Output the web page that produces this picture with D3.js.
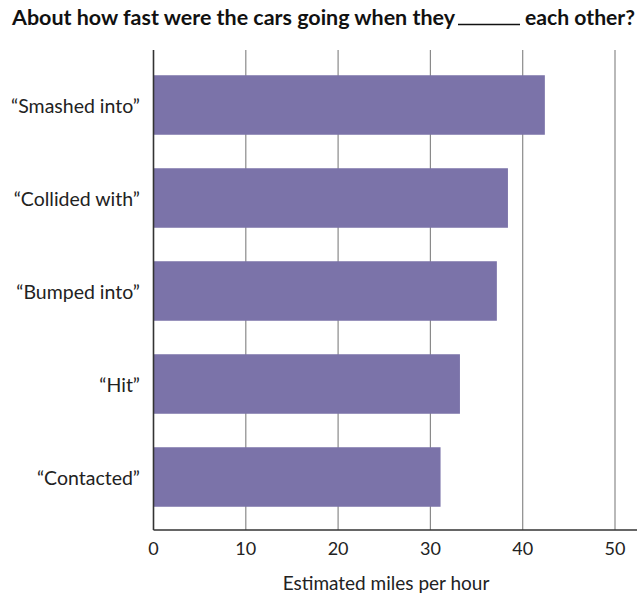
<!DOCTYPE html>
<html>
<head>
<meta charset="utf-8">
<script src="https://cdn.jsdelivr.net/npm/d3@7"></script>
<style>
  html, body { margin: 0; padding: 0; background: #ffffff; }
  svg { display: block; font-family: Lato, "Open Sans", sans-serif; }
</style>
</head>
<body>
<svg id="chart" width="638" height="593"></svg>
<script>
// Verb used in the question, top to bottom
const verbs = ["\u201CSmashed into\u201D", "\u201CCollided with\u201D", "\u201CBumped into\u201D", "\u201CHit\u201D", "\u201CContacted\u201D"];
// Mean estimated speed (mph) for each verb
const speeds = [42.4, 38.4, 37.2, 33.2, 31.1];
// Axis ticks
const xTicks = [0, 10, 20, 30, 40, 50];

const svg = d3.select("#chart");
const plotLeft = 153.5, plotRight = 615, plotTop = 50, plotBottom = 530;

const x = d3.scaleLinear().domain([0, 50]).range([plotLeft, plotRight]);
const y = d3.scaleBand().domain(verbs).range([58.5, 523.5]).paddingInner(0.36).paddingOuter(0.18);

// Title: question with a blank for the verb
const title = svg.append("g").attr("fill", "#111").attr("font-weight", 700).attr("font-size", 20.5);
title.append("text")
  .attr("x", 12).attr("y", 25)
  .attr("textLength", 443).attr("lengthAdjust", "spacingAndGlyphs")
  .text("About how fast were the cars going when they");
title.append("line")
  .attr("x1", 458).attr("x2", 520).attr("y1", 24.5).attr("y2", 24.5)
  .attr("stroke", "#111").attr("stroke-width", 1.6);
title.append("text")
  .attr("x", 525).attr("y", 25)
  .attr("textLength", 110).attr("lengthAdjust", "spacingAndGlyphs")
  .text("each other?");

// Vertical gridlines
svg.append("g").selectAll("line")
  .data(xTicks.slice(1))
  .join("line")
  .attr("x1", d => x(d)).attr("x2", d => x(d))
  .attr("y1", plotTop).attr("y2", plotBottom)
  .attr("stroke", "#8a8a8a").attr("stroke-width", 1.2);

// Bars
svg.append("g").selectAll("rect")
  .data(verbs.map((v, i) => ({ v, s: speeds[i] })))
  .join("rect")
  .attr("x", x(0))
  .attr("y", d => y(d.v))
  .attr("width", d => x(d.s) - x(0))
  .attr("height", y.bandwidth())
  .attr("fill", "#7b73a9");

// Y axis line
svg.append("line")
  .attr("x1", plotLeft).attr("x2", plotLeft).attr("y1", plotTop).attr("y2", plotBottom)
  .attr("stroke", "#333").attr("stroke-width", 1.6);

// X axis line
svg.append("line")
  .attr("x1", plotLeft).attr("x2", 637).attr("y1", plotBottom).attr("y2", plotBottom)
  .attr("stroke", "#333").attr("stroke-width", 1.6);

// Category labels
svg.append("g").selectAll("text")
  .data(verbs)
  .join("text")
  .attr("x", 140)
  .attr("y", d => y(d) + y.bandwidth() / 2 + 8)
  .attr("text-anchor", "end")
  .attr("font-size", 19.5).attr("fill", "#222")
  .text(d => d);

// Tick labels
svg.append("g").selectAll("text")
  .data(xTicks)
  .join("text")
  .attr("x", d => x(d))
  .attr("y", 555)
  .attr("text-anchor", "middle")
  .attr("font-size", 18).attr("fill", "#222")
  .text(d => d);

// Axis title
svg.append("text")
  .attr("x", 386).attr("y", 590)
  .attr("text-anchor", "middle")
  .attr("font-size", 19).attr("fill", "#222")
  .text("Estimated miles per hour");
</script>
</body>
</html>
